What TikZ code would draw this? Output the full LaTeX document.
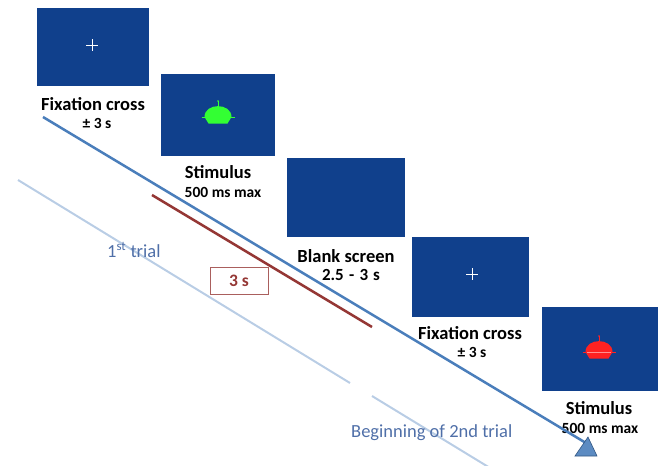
\documentclass[tikz,border=0pt]{standalone}
\usepackage{fontspec}
\setmainfont{Carlito}
\definecolor{scr}{HTML}{10408C}
\definecolor{mainblue}{HTML}{4A7EBB}
\definecolor{lightblue}{HTML}{B9CDE5}
\definecolor{darkred}{HTML}{953735}
\definecolor{txtblue}{HTML}{4F6FA8}
\definecolor{ufogreen}{HTML}{33FF33}
\definecolor{ufored}{HTML}{FF2222}
\newcommand\myufo[3]{%
  \begin{scope}[shift={(#1,#2)}]
    \draw[#3, line width=0.7pt] (0,-8) -- (0,-14);
    \fill[#3] (0,-14) circle (0.9);
    \fill[#3] (-13.5,2) .. controls (-13.5,-12.5) and (13.5,-12.5) .. (13.5,2) -- (9.5,8.5) -- (-9.5,8.5) -- cycle;
    \draw[#3, line width=1pt] (-16.5,2) -- (16.5,2);
  \end{scope}}
\tikzset{
  screen/.style={draw=none, fill=scr, inner sep=0pt},
  lbl/.style={font=\fontsize{18.5}{20}\selectfont\bfseries, inner sep=0pt},
  sublbl/.style={font=\fontsize{15.5}{17}\selectfont\bfseries, inner sep=0pt},
  trialtxt/.style={text=txtblue, inner sep=0pt},
}
\begin{document}
\begin{tikzpicture}[x=1pt,y=-1pt]
\useasboundingbox (0,0) rectangle (662,466);
% light trial lines
\coordinate (l1a) at (18,180);
\coordinate (l1b) at (350,383);
\coordinate (l2a) at (372,396);
\coordinate (l2b) at (495,471);
\draw[lightblue, line width=2pt] (l1a) -- (l1b);
\draw[lightblue, line width=2pt] (l2a) -- (l2b);
% screens
\node[screen, minimum width=112, minimum height=78] (s1) at (93,47) {};
\node[screen, minimum width=114, minimum height=82] (s2) at (218,115) {};
\node[screen, minimum width=118, minimum height=79] (s3) at (346,197.5) {};
\node[screen, minimum width=117, minimum height=80] (s4) at (470.5,277) {};
\node[screen, minimum width=116, minimum height=84] (s5) at (600,349) {};
% crosses
\draw[white, line width=0.8pt] (86,45) -- (98,45) (92,39) -- (92,51);
\draw[white, line width=0.8pt] (466,274) -- (478,274) (472,268) -- (472,280);
% stimuli
\myufo{218}{115}{ufogreen}
\myufo{599}{350}{ufored}
\draw[white, opacity=0.5, line width=0.5pt] (587,352) -- (611,352);
% labels
\node[lbl] (t1) at (93,104) {Fixation cross};
\node[sublbl] (u1) at (97,123) {± 3 s};
\node[lbl] (t2) at (218,172) {Stimulus};
\node[sublbl] (u2) at (223,192) {500 ms max};
\node[lbl] (t3) at (346,256) {Blank screen};
\node[sublbl, font=\fontsize{17}{18}\selectfont\bfseries] (u3) at (351,275) {2.5\hspace{1.5pt} -\hspace{1.5pt} 3\hspace{1pt} s};
\node[lbl] (t4) at (470,333) {Fixation cross};
\node[sublbl] (u4) at (472,352) {± 3 s};
\node[lbl] (t5) at (599,408) {Stimulus};
\node[sublbl] (u5) at (600,428) {500 ms max};
% main timeline
\coordinate (m1) at (43,117);
\coordinate (m2) at (586,443);
\draw[mainblue, line width=2.5pt] (m1) -- (m2);
\coordinate (tA) at (588,437);
\coordinate (tB) at (575,456);
\coordinate (tC) at (597,456);
\filldraw[fill=mainblue!90!white, draw=mainblue!70!black, line width=0.6pt] (tA) -- (tB) -- (tC) -- cycle;
% red 3 s line
\coordinate (r1) at (152,195);
\coordinate (r2) at (372,327);
\draw[darkred, line width=2.5pt] (r1) -- (r2);
\node[draw=darkred!80, line width=0.8pt, fill=white, minimum width=58, minimum height=27, inner sep=0pt,
      text=darkred, font=\fontsize{17.5}{18}\selectfont\bfseries] (box) at (239,280.5) {3 s};
% trial labels
\node[trialtxt, font=\fontsize{18.5}{20}\selectfont, anchor=west] (tr1) at (107,250) {1\textsuperscript{st} trial};
\node[trialtxt, font=\fontsize{18.5}{20}\selectfont, anchor=west] (tr2) at (351,433) {Beginning of 2nd trial};
\end{tikzpicture}
\end{document}
